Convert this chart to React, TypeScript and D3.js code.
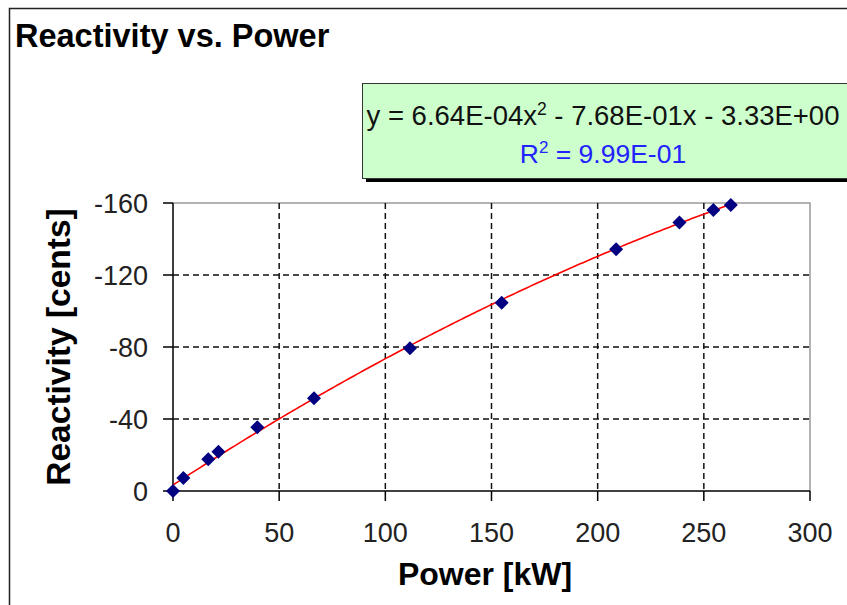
import React from "react";
import * as d3 from "d3";

// Measured reactivity at each reactor power level
const powerKW = [0, 4.9, 16.6, 21.4, 39.7, 66.4, 111.6, 154.8, 208.7, 238.5, 254.5, 262.7];
const reactivityCents = [0, -7.2, -17.6, -21.8, -35.4, -51.5, -79.3, -104.6, -134.3, -149.1, -156.1, -158.9];

// Quadratic trendline coefficients (y = a x^2 + b x + c)
const fitA = 6.64e-4;
const fitB = -7.68e-1;
const fitC = -3.33;

const xTicks = [0, 50, 100, 150, 200, 250, 300];
const yTicks = [0, -40, -80, -120, -160];
const yTickLabels = ["0", "-40", "-80", "-120", "-160"];

const FONT = "'Liberation Sans', Arial, Helvetica, sans-serif";

export default function App() {
  const W = 847;
  const H = 605;
  const x = d3.scaleLinear().domain([0, 300]).range([173, 810]);
  const y = d3.scaleLinear().domain([0, -160]).range([491, 203]);

  const xMax = d3.max(powerKW) as number;
  const fitPts: [number, number][] = d3
    .range(0, 201)
    .map((i) => (i / 200) * xMax)
    .map((p) => [p, fitA * p * p + fitB * p + fitC]);
  const fitLine = d3
    .line<[number, number]>()
    .x((d) => x(d[0]))
    .y((d) => y(d[1]))(fitPts);

  const points = powerKW.map((p, i) => ({ p, r: reactivityCents[i] }));
  const dm = 7;
  const diamond = (cx: number, cy: number) =>
    `M${cx},${cy - dm}L${cx + dm},${cy}L${cx},${cy + dm}L${cx - dm},${cy}Z`;

  const [x0, x1] = x.range();
  const [y0, y1] = y.range();

  return (
    <svg
      width={W}
      height={H}
      style={{ position: "absolute", left: 0, top: 0, background: "#fff" }}
      fontFamily={FONT}
    >
      <rect x={0} y={0} width={W} height={H} fill="#fff" />
      {/* chart frame */}
      <path d={`M9.5,${H + 5}V8.5H${W + 5}`} fill="none" stroke="#222" strokeWidth={1.5} />

      <text x={15} y={47} fontSize={32.5} fontWeight="bold" fill="#000">
        Reactivity vs. Power
      </text>

      {/* trendline equation box */}
      <rect x={366} y={87} width={500} height={95} fill="#000" />
      <rect x={362.5} y={83.5} width={500} height={95} fill="#ccffcc" stroke="#333" strokeWidth={1} />
      <text x={603} y={125} fontSize={27.5} textAnchor="middle" fill="#111">
        y = 6.64E-04x
        <tspan fontSize={17.5} dy={-10}>2</tspan>
        <tspan dy={10}> - 7.68E-01x - 3.33E+00</tspan>
      </text>
      <text x={603} y={163} fontSize={26.5} textAnchor="middle" fill="#2222ff">
        R<tspan fontSize={17} dy={-10}>2</tspan>
        <tspan dy={10}> = 9.99E-01</tspan>
      </text>

      {/* plot frame */}
      <path d={`M${x0},${y1}H${x1}V${y0}`} fill="none" stroke="#999" strokeWidth={1.5} />

      {/* grid */}
      {xTicks
        .filter((t) => t > 0 && t < 300)
        .map((t) => (
          <line
            key={"gx" + t}
            x1={x(t)}
            x2={x(t)}
            y1={y1}
            y2={y0}
            stroke="#111"
            strokeWidth={1.5}
            strokeDasharray="6,4"
          />
        ))}
      {yTicks
        .filter((t) => t !== 0 && t !== -160)
        .map((t) => (
          <line
            key={"gy" + t}
            x1={x0}
            x2={x1}
            y1={y(t)}
            y2={y(t)}
            stroke="#111"
            strokeWidth={1.5}
            strokeDasharray="6,4"
          />
        ))}

      {/* axes */}
      <line x1={x0} x2={x0} y1={y1} y2={y0} stroke="#000" strokeWidth={1.5} />
      <line x1={x0} x2={x1} y1={y0} y2={y0} stroke="#000" strokeWidth={1.5} />
      {xTicks.map((t) => (
        <g key={"xt" + t}>
          <line x1={x(t)} x2={x(t)} y1={y0} y2={y0 + 10} stroke="#000" strokeWidth={1.5} />
          <text x={x(t)} y={542} fontSize={27} textAnchor="middle" fill="#222">
            {t}
          </text>
        </g>
      ))}
      {yTicks.map((t, i) => (
        <g key={"yt" + t}>
          <line x1={x0 - 10} x2={x0} y1={y(t)} y2={y(t)} stroke="#000" strokeWidth={1.5} />
          <text x={148} y={y(t)} dy="0.36em" fontSize={27} textAnchor="end" fill="#222">
            {yTickLabels[i]}
          </text>
        </g>
      ))}

      <text x={485} y={585} fontSize={32} fontWeight="bold" textAnchor="middle" fill="#000">
        Power [kW]
      </text>
      <text
        transform={`translate(70,${(y0 + y1) / 2}) rotate(-90)`}
        fontSize={33.5}
        fontWeight="bold"
        textAnchor="middle"
        fill="#000"
      >
        Reactivity [cents]
      </text>

      {/* fitted curve and measurements */}
      <path d={fitLine || ""} fill="none" stroke="#ff0000" strokeWidth={1.6} />
      {points.map((d, i) => (
        <path key={"pt" + i} d={diamond(x(d.p), y(d.r))} fill="#000080" />
      ))}
    </svg>
  );
}
